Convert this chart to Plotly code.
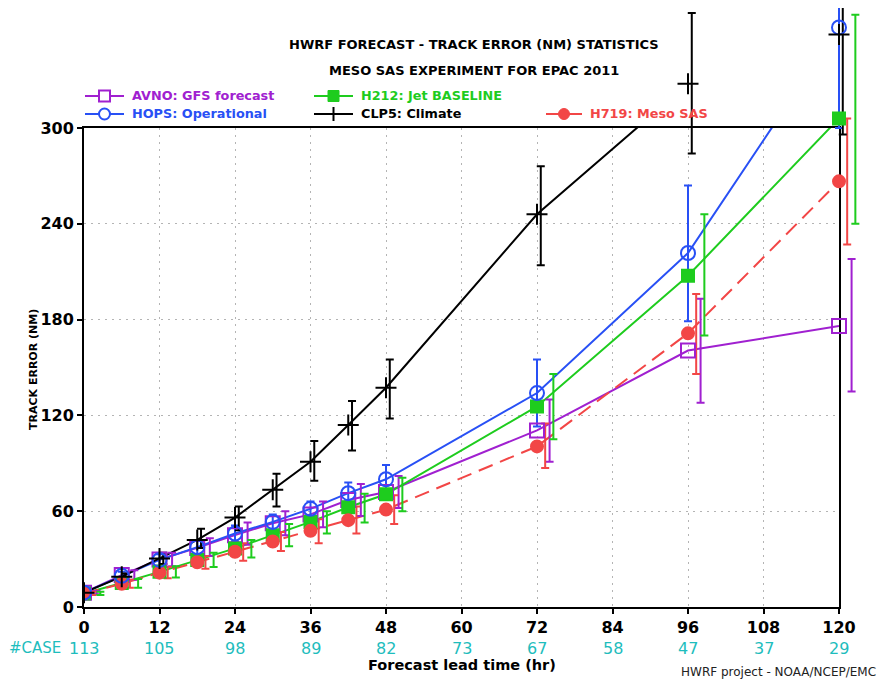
import plotly.graph_objects as go

# ---------------- data ----------------
hours = [0, 6, 12, 18, 24, 30, 36, 42, 48, 72, 96, 120]

avno = [9, 20, 29.8, 37, 45, 52.5, 58, 67, 72, 110.6, 160.6, 176]
avno_lo = [8, 17, 25.5, 32, 39, 45, 50, 57, 62, 91, 128, 135]
avno_hi = [10, 23, 34, 43, 53, 60, 66, 77, 82, 130, 193, 218]

hops = [9, 19.5, 29.5, 37.5, 46, 53.3, 61.5, 71.3, 80, 134, 221.7, 363]
hops_lo = [8, 17, 26, 33, 41, 49, 57, 64, 72, 113, 179, 300]
hops_hi = [10, 22, 33, 42, 51, 58, 66, 78, 89, 155, 264, 420]

h212 = [8.5, 15, 22, 29.4, 36.7, 45, 53.3, 62.5, 70.6, 125.6, 207.5, 306]
h212_lo = [7.5, 12, 18.5, 25, 31, 38, 46, 53, 60, 105, 170, 240]
h212_hi = [9.5, 17.5, 25.5, 34, 42, 52, 60, 71, 81, 146, 246, 371]

clp5 = [9, 19, 30.4, 42, 56, 73.5, 91, 114, 137.3, 246, 327.7, 358.6]
clp5_lo = [8, 17, 27, 37, 48, 63, 79, 98, 118, 214, 284, 296]
clp5_hi = [10, 21, 34, 49, 63, 83.5, 104, 129, 155, 276, 372, 420]

h719 = [8.5, 14.5, 21.5, 28, 34.6, 41, 47.7, 54.4, 61, 100.6, 171.4, 266.6]
h719_lo = [7.5, 12, 18, 24, 29, 35, 40, 46, 52, 87, 146, 227]
h719_hi = [9.5, 17, 25, 32, 40, 47, 55, 63, 70, 115, 196, 306]

case_hours = [0, 12, 24, 36, 48, 60, 72, 84, 96, 108, 120]
cases = [113, 105, 98, 89, 82, 73, 67, 58, 47, 37, 29]

x_ticks = [0, 12, 24, 36, 48, 60, 72, 84, 96, 108, 120]
y_ticks = [0, 60, 120, 180, 240, 300]

title1 = "HWRF FORECAST - TRACK ERROR (NM) STATISTICS"
title2 = "MESO SAS EXPERIMENT FOR EPAC 2011"

# ---------------- styles ----------------
PURPLE = "#A020D0"
BLUE = "#2850F5"
GREEN = "#1ECC1E"
BLACK = "#000000"
RED = "#F24646"
TEAL = "#1EBDBD"
FONT = "DejaVu Sans"

# page has an 8px body margin: figure sits at (8, 8) in the 888x682 window
OFF = 8
W, H = 888 - OFF, 682 - OFF
BOX_L, BOX_R, BOX_T, BOX_B = 84, 839, 128, 607   # framed box, window pixels
L = BOX_L - OFF
R = 0
T = 0
B = 682 - BOX_B
PW, PH = W - L - R, H - T - B
BOX_W, BOX_H = BOX_R - BOX_L, BOX_B - BOX_T
X_MAX, Y_MAX = 120, 300
X2_MAX = X_MAX * PW / BOX_W
Y2_MAX = Y_MAX * PH / BOX_H


def px(xs):
    return (xs - BOX_L) / PW


def py(ys):
    return (BOX_B - ys) / PH


series = [
    # name, values, lo, hi, color, symbol, size, dash, errorbar offset (h)
    ("AVNO", avno, avno_lo, avno_hi, PURPLE, "square-open", 14, "solid", 2.0),
    ("H212", h212, h212_lo, h212_hi, GREEN, "square", 12, "solid", 2.6),
    ("H719", h719, h719_lo, h719_hi, RED, "circle", 12, "15px,8px", 1.3),
    ("HOPS", hops, hops_lo, hops_hi, BLUE, "circle-open", 14, "solid", 0.0),
    ("CLP5", clp5, clp5_lo, clp5_hi, BLACK, "cross-thin", 15, "solid", 0.6),
]

fig = go.Figure()

# lines, clipped to the framed box (x / y axes)
for name, v, lo, hi, col, sym, size, dash, off in series:
    fig.add_trace(go.Scatter(
        x=hours, y=v, mode="lines", name=name,
        line=dict(color=col, width=2, dash=dash),
        xaxis="x", yaxis="y", showlegend=False, hoverinfo="skip"))

# error bars (offset per series) on the full-area axes (x2 / y2)
for name, v, lo, hi, col, sym, size, dash, off in series:
    fig.add_trace(go.Scatter(
        x=[h + off for h in hours], y=v, mode="markers",
        marker=dict(size=1, opacity=0),
        error_y=dict(type="data", symmetric=False,
                     array=[h_ - m for h_, m in zip(hi, v)],
                     arrayminus=[m - l_ for l_, m in zip(lo, v)],
                     color=col, thickness=2, width=4),
        xaxis="x2", yaxis="y2", showlegend=False, hoverinfo="skip"))

# markers on the full-area axes
for name, v, lo, hi, col, sym, size, dash, off in series:
    fig.add_trace(go.Scatter(
        x=hours, y=v, mode="markers", name=name,
        marker=dict(symbol=sym, size=size, color=col,
                    line=dict(color=col, width=2)),
        xaxis="x2", yaxis="y2", showlegend=False))

shapes = []
annotations = []

# titles
for txt, yy in ((title1, 45), (title2, 70)):
    annotations.append(dict(x=px(474), y=py(yy), xref="paper", yref="paper", text="<b>%s</b>" % txt,
                            showarrow=False, font=dict(family=FONT, size=13, color="black"),
                            xanchor="center", yanchor="middle"))

# custom legend
legend_items = [
    ("AVNO: GFS forecast", PURPLE, "sq_open", 85, 124, 96),
    ("H212: Jet BASELINE", GREEN, "sq_fill", 314, 353, 96),
    ("HOPS: Operational", BLUE, "circ_open", 85, 124, 114),
    ("CLP5: Climate", BLACK, "plus", 314, 353, 114),
    ("H719: Meso SAS", RED, "circ_fill", 546, 582, 114),
]
for text, col, kind, x0, x1, yy in legend_items:
    shapes.append(dict(type="line", xref="paper", yref="paper", x0=px(x0), x1=px(x1),
                       y0=py(yy), y1=py(yy), line=dict(color=col, width=2)))
    cx = (x0 + x1) / 2
    r = 5.5
    box = dict(xref="paper", yref="paper", x0=px(cx - r), x1=px(cx + r),
               y0=py(yy + r), y1=py(yy - r))
    if kind == "sq_open":
        shapes.append(dict(type="rect", line=dict(color=col, width=2), fillcolor="white", **box))
    elif kind == "sq_fill":
        shapes.append(dict(type="rect", line=dict(color=col, width=1), fillcolor=col, **box))
    elif kind == "circ_open":
        shapes.append(dict(type="circle", line=dict(color=col, width=2), fillcolor="white", **box))
    elif kind == "circ_fill":
        shapes.append(dict(type="circle", line=dict(color=col, width=1), fillcolor=col, **box))
    elif kind == "plus":
        shapes.append(dict(type="line", xref="paper", yref="paper", x0=px(cx), x1=px(cx),
                           y0=py(yy - 7), y1=py(yy + 7), line=dict(color=col, width=2)))
    annotations.append(dict(x=px(x1 + 6), y=py(yy), xref="paper", yref="paper",
                            text="<b>%s</b>" % text,
                            showarrow=False, xanchor="left", yanchor="middle",
                            font=dict(family=FONT, size=12.8, color=col)))

# #CASE row
annotations.append(dict(x=px(63), y=py(648), xref="paper", yref="paper", text="#CASE",
                        showarrow=False, xanchor="right", yanchor="middle",
                        font=dict(family=FONT, size=15, color=TEAL)))
for h, c in zip(case_hours, cases):
    annotations.append(dict(x=h, xref="x", y=py(648), yref="paper", text=str(c),
                            showarrow=False, xanchor="center", yanchor="middle",
                            font=dict(family=FONT, size=16, color=TEAL)))

annotations.append(dict(x=px(462), y=py(665), xref="paper", yref="paper",
                        text="<b>Forecast lead time (hr)</b>", showarrow=False,
                        font=dict(family=FONT, size=14.5, color="black"),
                        xanchor="center", yanchor="middle"))
annotations.append(dict(x=px(878), xanchor="right", y=py(672), xref="paper", yref="paper",
                        text="HWRF project - NOAA/NCEP/EMC", showarrow=False,
                        font=dict(family=FONT, size=12, color="#222222"), yanchor="middle"))
annotations.append(dict(x=px(33), y=py(370), xref="paper", yref="paper",
                        text="<b>TRACK ERROR (NM)</b>", showarrow=False, textangle=-90,
                        font=dict(family=FONT, size=11, color="black"),
                        xanchor="center", yanchor="middle"))

axis_common = dict(showgrid=True, gridcolor="#B4B4B4", griddash="2px,5px", gridwidth=1.2,
                   showline=True, mirror=True, linecolor="black", linewidth=2,
                   ticks="outside", ticklen=5, tickwidth=2, tickcolor="black",
                   tickfont=dict(family=FONT, size=16, color="black"), zeroline=False)

fig.update_layout(
    width=W, height=H,
    margin=dict(l=L, r=R, t=T, b=B, pad=0, autoexpand=False),
    paper_bgcolor="white", plot_bgcolor="rgba(0,0,0,0)",
    showlegend=False,
    shapes=shapes, annotations=annotations,
    font=dict(family=FONT, color="black"),
    xaxis=dict(domain=[0, BOX_W / PW], range=[0, X_MAX], tickvals=x_ticks,
               ticktext=["<b>%d</b>" % t for t in x_ticks], anchor="y", **axis_common),
    yaxis=dict(domain=[0, BOX_H / PH], range=[0, Y_MAX], tickvals=y_ticks,
               ticktext=["<b>%d</b>" % t for t in y_ticks], anchor="x", **axis_common),
    xaxis2=dict(domain=[0, 1], range=[0, X2_MAX], visible=False, anchor="y2"),
    yaxis2=dict(domain=[0, 1], range=[0, Y2_MAX], visible=False, anchor="x2"),
)

fig.write_html("out.html")
